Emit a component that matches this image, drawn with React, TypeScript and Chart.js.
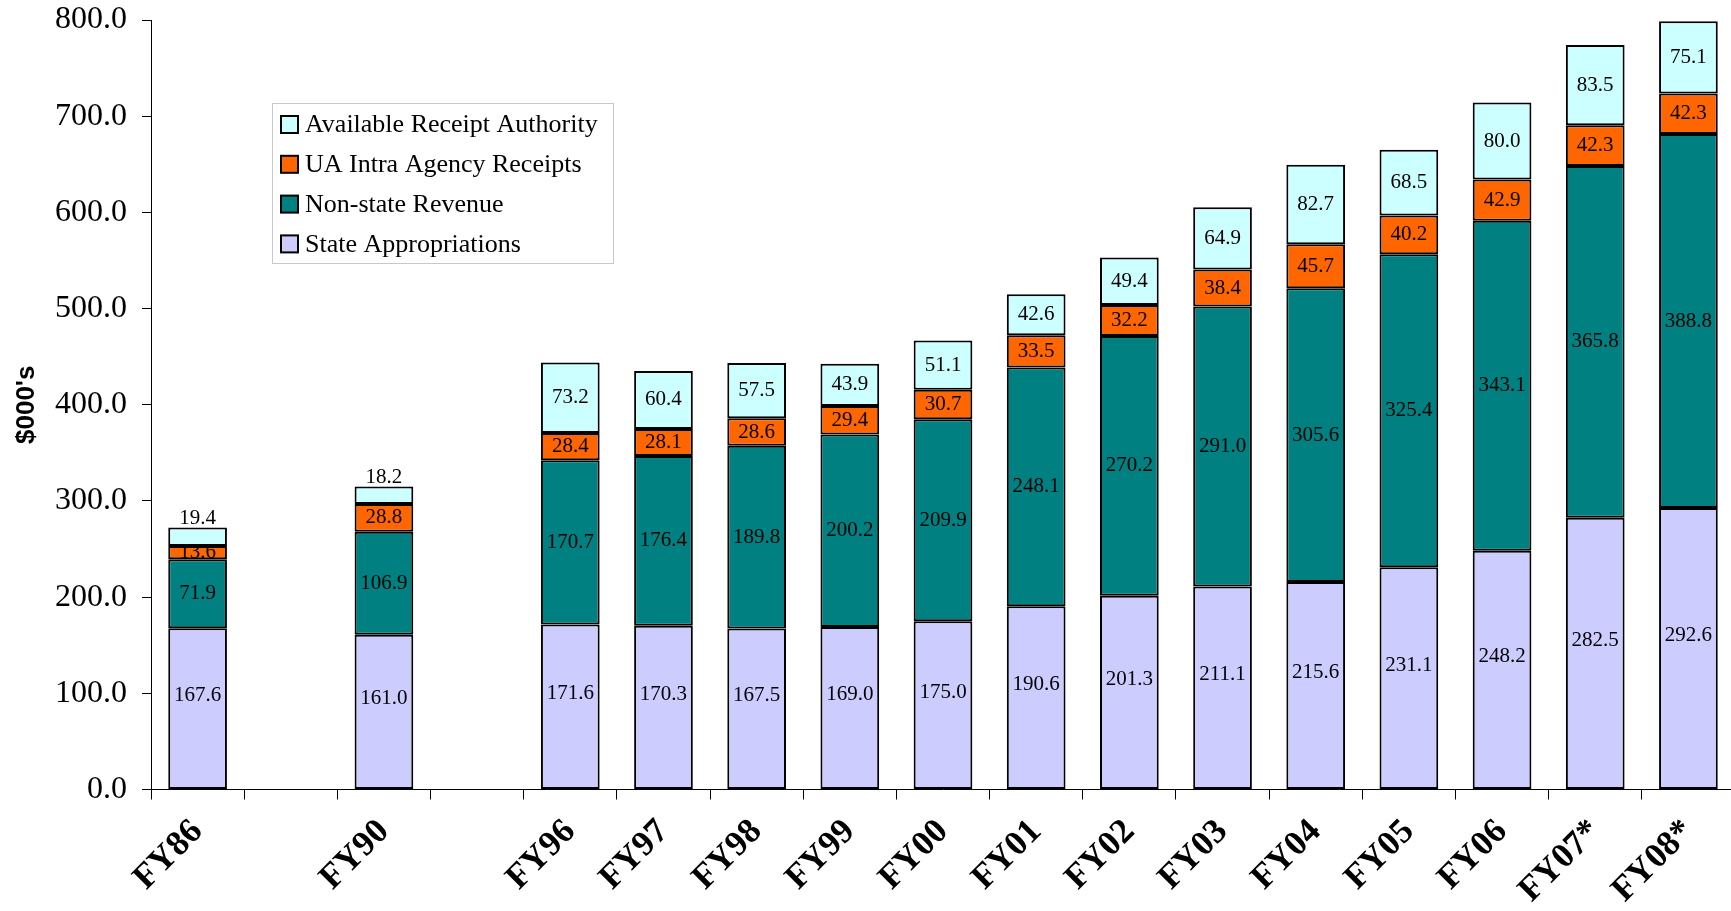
import React, { useEffect, useRef } from "react";
import { Chart, registerables } from "chart.js";

Chart.register(...registerables);

const categories = ["FY86", "", "FY90", "", "FY96", "FY97", "FY98", "FY99", "FY00", "FY01", "FY02", "FY03", "FY04", "FY05", "FY06", "FY07*", "FY08*"];
const stateAppropriations = [167.6, null, 161.0, null, 171.6, 170.3, 167.5, 169.0, 175.0, 190.6, 201.3, 211.1, 215.6, 231.1, 248.2, 282.5, 292.6];
const nonStateRevenue = [71.9, null, 106.9, null, 170.7, 176.4, 189.8, 200.2, 209.9, 248.1, 270.2, 291.0, 305.6, 325.4, 343.1, 365.8, 388.8];
const uaIntraAgencyReceipts = [13.6, null, 28.8, null, 28.4, 28.1, 28.6, 29.4, 30.7, 33.5, 32.2, 38.4, 45.7, 40.2, 42.9, 42.3, 42.3];
const availableReceiptAuthority = [19.4, null, 18.2, null, 73.2, 60.4, 57.5, 43.9, 51.1, 42.6, 49.4, 64.9, 82.7, 68.5, 80.0, 83.5, 75.1];

const seriesNames = ["State Appropriations", "Non-state Revenue", "UA Intra Agency Receipts", "Available Receipt Authority"];
const seriesColors = ["#CCCCFF", "#008080", "#FF6600", "#CCFFFF"];

const yMin = 0;
const yMax = 800;
const yStep = 100;
const yTitle = "$000's";

const SERIF = '"Liberation Serif", "Times New Roman", serif';
const SANS = '"Liberation Sans", Arial, sans-serif';

const valueLabels = {
  id: "valueLabels",
  afterDatasetsDraw(chart: any) {
    const ctx = chart.ctx;
    ctx.save();
    ctx.font = `21px ${SERIF}`;
    ctx.fillStyle = "#000";
    ctx.textAlign = "center";
    ctx.textBaseline = "middle";
    const n = chart.data.datasets.length;
    chart.data.datasets.forEach((ds: any, di: number) => {
      const meta = chart.getDatasetMeta(di);
      meta.data.forEach((bar: any, i: number) => {
        const v = ds.data[i];
        if (v == null) return;
        const { x, y, base } = bar.getProps(["x", "y", "base"], true);
        const h = Math.abs(base - y);
        let cy = (y + base) / 2;
        if (di === 0) cy -= 13;
        if (di === n - 1 && h < 25) cy = y - 9;
        ctx.fillText(Number(v).toFixed(1), x, cy);
      });
    });
    ctx.restore();
  },
};

const boxLegend = {
  id: "boxLegend",
  afterDraw(chart: any) {
    const ctx = chart.ctx;
    ctx.save();
    const bx = 272, by = 103, bw = 341, bh = 160;
    ctx.fillStyle = "#fff";
    ctx.fillRect(bx, by, bw, bh);
    ctx.strokeStyle = "#c8c8c8";
    ctx.lineWidth = 1;
    ctx.strokeRect(bx + 0.5, by + 0.5, bw, bh);
    const ds = chart.data.datasets.slice().reverse();
    ctx.font = `26px ${SERIF}`;
    ctx.textBaseline = "middle";
    ctx.textAlign = "left";
    ds.forEach((d: any, i: number) => {
      const cy = 124.5 + i * 39.8;
      ctx.fillStyle = d.backgroundColor;
      ctx.fillRect(281, cy - 8.5, 17, 17);
      ctx.strokeStyle = "#000";
      ctx.lineWidth = 2;
      ctx.strokeRect(281, cy - 8.5, 17, 17);
      ctx.fillStyle = "#000";
      ctx.fillText(d.label, 305, cy + 1);
    });
    ctx.restore();
  },
};

export default function App() {
  const ref = useRef<HTMLCanvasElement>(null);

  useEffect(() => {
    document.body.style.overflow = "hidden";
    const seriesData = [stateAppropriations, nonStateRevenue, uaIntraAgencyReceipts, availableReceiptAuthority];
    const chart = new Chart(ref.current as HTMLCanvasElement, {
      type: "bar",
      data: {
        labels: categories,
        datasets: seriesData.map((d, i) => ({
          label: seriesNames[i],
          data: d,
          backgroundColor: seriesColors[i],
          borderColor: "#000",
          borderWidth: 2,
          borderSkipped: false,
          categoryPercentage: 1,
          barPercentage: 0.63,
        })),
      },
      options: {
        animation: false,
        responsive: true,
        maintainAspectRatio: false,
        layout: { padding: { top: 0, left: 0, right: 0, bottom: 0 } },
        plugins: {
          legend: { display: false },
          tooltip: { enabled: false },
        },
        scales: {
          x: {
            stacked: true,
            grid: { display: true, drawOnChartArea: false, drawTicks: true, tickLength: 10, color: "#000", offset: true },
            border: { color: "#000", width: 1 },
            ticks: {
              autoSkip: false,
              maxRotation: 45,
              minRotation: 45,
              color: "#000",
              padding: 12,
              font: { family: SERIF, size: 35, weight: "bold" },
            },
            afterFit: (s: any) => {
              s.height = 121.5;
            },
          },
          y: {
            stacked: true,
            min: yMin,
            max: yMax,
            ticks: {
              stepSize: yStep,
              color: "#000",
              padding: 15,
              font: { family: SERIF, size: 32 },
              callback: (v: any) => Number(v).toFixed(1),
            },
            grid: { drawOnChartArea: false, tickLength: 9, color: "#000" },
            border: { color: "#000", width: 1 },
            title: {
              display: true,
              text: yTitle,
              color: "#000",
              font: { family: SANS, size: 26, weight: "bold" },
              padding: { top: 11, bottom: 0 },
            },
            afterFit: (s: any) => {
              s.width = 151;
              s.paddingTop = 20;
              s.paddingBottom = 0;
            },
          },
        },
      },
      plugins: [valueLabels, boxLegend],
    } as any);
    return () => chart.destroy();
  }, []);

  return (
    <div style={{ position: "fixed", left: 0, top: 0, width: 1735, height: 911, background: "#fff" }}>
      <canvas ref={ref} />
    </div>
  );
}
